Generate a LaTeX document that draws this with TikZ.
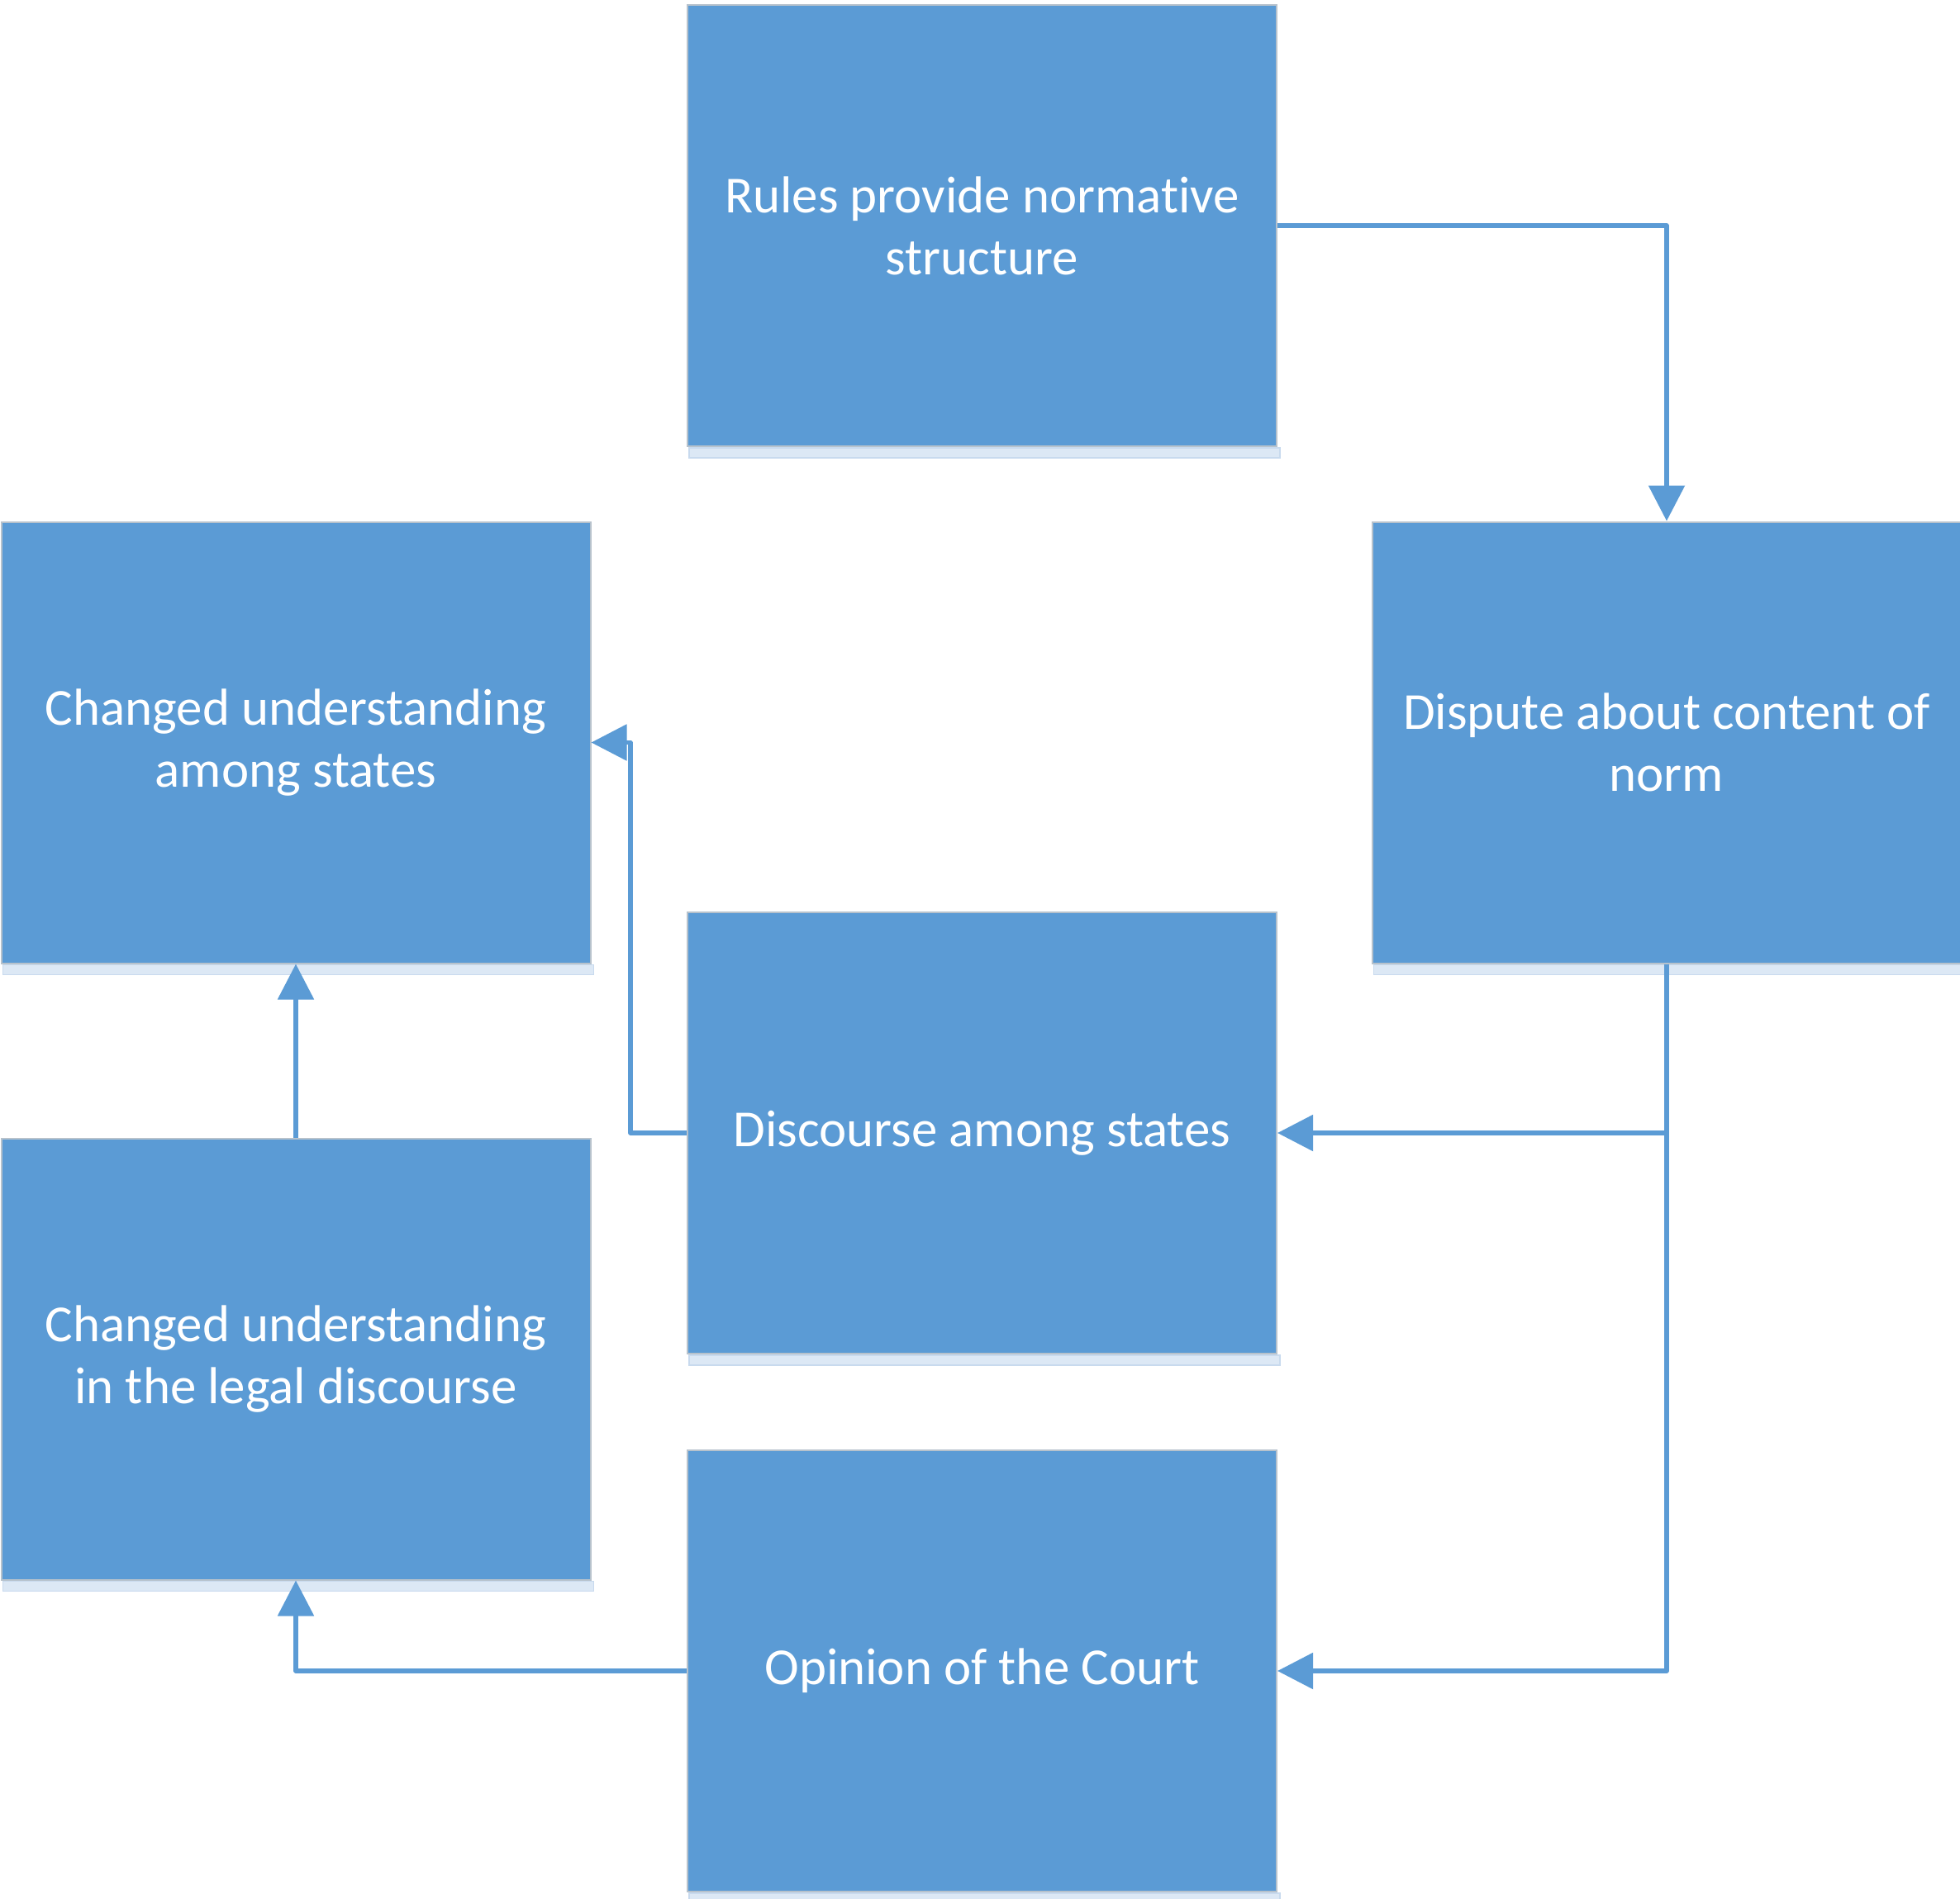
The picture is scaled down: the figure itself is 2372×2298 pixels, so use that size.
\documentclass[tikz,border=0pt]{standalone}
\usepackage{fontspec}
\setmainfont{Carlito}[Ligatures={NoCommon}]
\usetikzlibrary{arrows.meta}
\definecolor{boxblue}{HTML}{5B9BD5}
\definecolor{boxedge}{HTML}{B7C2CC}
\definecolor{shadeblue}{HTML}{DCE8F5}
\definecolor{shadeedge}{HTML}{C8DAEE}
\begin{document}
\begin{tikzpicture}[x=1pt,y=-1pt,
  box/.style={rectangle, fill=boxblue, draw=boxedge, line width=2pt,
    minimum width=713pt, minimum height=534pt, inner sep=0pt,
    text=white, align=center, font=\fontsize{62.9}{75.2}\selectfont},
  conn/.style={draw=boxblue, line width=5.5pt, line join=round,
    -{Triangle[length=43pt,width=43pt]}},
  shade/.style={fill=shadeblue, draw=shadeedge, line width=1.5pt}]
\useasboundingbox (0,0) rectangle (2372,2298);
\node[box] (A) at (1188.5,273) {Rules provide normative\\structure};
\node[box] (B) at (358,898.5) {Changed understanding\\among states};
\node[box] (C) at (2017,898.5) {Dispute about content of\\norm};
\node[box] (D) at (1188.5,1371) {Discourse among states};
\node[box] (E) at (358,1644.5) {Changed understanding\\in the legal discourse};
\node[box] (F) at (1188.5,2022) {Opinion of the Court};
\foreach \n in {A,B,C,D,E,F}{
  \path[shade] ([xshift=3pt,yshift=-1pt]\n.south west) rectangle ([xshift=3pt,yshift=-13pt]\n.south east);
}
\draw[conn] (A.east) -| (C.north);
\draw[conn] (C.south) |- (D.east);
\draw[conn] (C.south) |- (F.east);
\draw[conn] (D.west) -- ++(-68,0) |- (B.east);
\draw[conn] (E.north) -- (B.south);
\draw[conn] (F.west) -| (E.south);
\end{tikzpicture}
\end{document}
